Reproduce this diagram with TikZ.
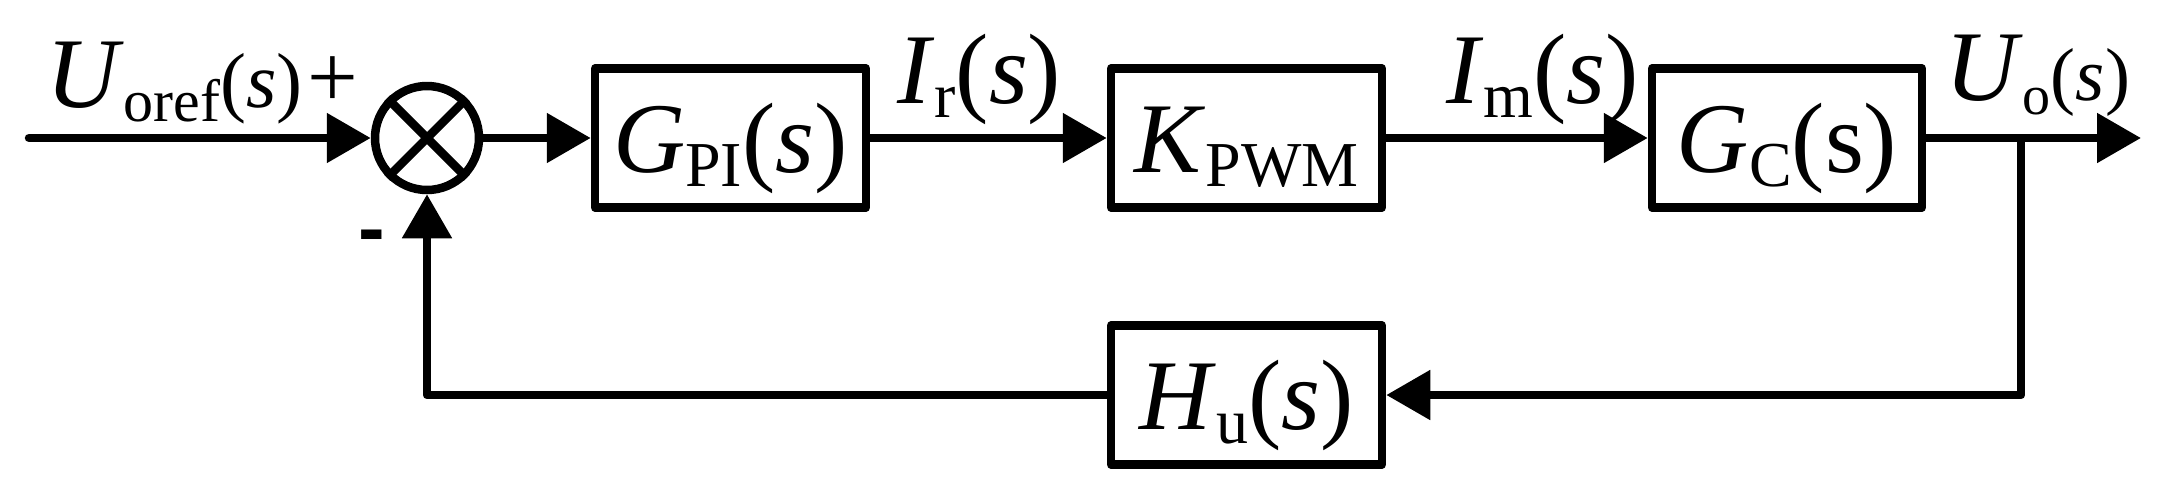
\documentclass[tikz,border=0pt]{standalone}
\usepackage{fontspec}
\setmainfont{Liberation Serif}
\newfontfamily\dashfont{Liberation Sans}
\usetikzlibrary{arrows.meta}
\newcommand{\lowsub}[2][64pt]{\raisebox{-14pt}{\fontsize{#1}{#1}\selectfont #2}}
\newcommand{\bigtext}{\fontsize{100pt}{100pt}\selectfont}
\newcommand{\midtext}{\fontsize{78pt}{78pt}\selectfont}

\begin{document}
\begin{tikzpicture}[x=1pt, y=-1pt, line width=8.5pt, line join=round,
  block/.style={draw, minimum width=271pt, minimum height=139pt, inner sep=0pt,
    text height=80pt, text depth=11pt, font=\bigtext},
  sig/.style={-{Triangle[length=44pt, width=48pt]}},
  lbl/.style={anchor=base west, inner sep=0pt, font=\bigtext}]
  \useasboundingbox (0,0) rectangle (2160,491);

  % Summing junction
  \node [circle, draw, minimum size=104pt, inner sep=0pt] (sum) at (427,138) {};
  \draw (sum.north east) -- (sum.south west);
  \draw (sum.north west) -- (sum.south east);
  \node [inner sep=0pt, font=\fontsize{90pt}{90pt}\selectfont] (plus) at (333,82) {+};
  \node [anchor=base, inner sep=0pt, font=\dashfont\bfseries\fontsize{80pt}{80pt}\selectfont] (minus) at (372,255) {-};

  % Forward path
  \node [block] (gpi) at (730.5,138) {\textit{G}\lowsub{PI}(\textit{s})};
  \node [block] (kpwm) at (1246.5,138) {\textit{K}\lowsub{PWM}};
  \node [block, minimum width=270pt] (gc) at (1787,138) {\textit{G}\lowsub{C}(s)};

  % Feedback path
  \node [block] (hu) at (1246.5,395) {\textit{H}\lowsub{u}(\textit{s})};

  % Signals
  \coordinate (in) at (29,138);
  \coordinate (branch) at (2021,138);
  \coordinate (out) at (2141,138);
  \node [lbl] (uref) at (42,107) {\textit{U}\lowsub[60pt]{oref}{\midtext(\textit{s})}};
  \node [lbl] (ir) at (893,103) {\textit{I}\lowsub{r}(\textit{s})};
  \node [lbl] (im) at (1442,103) {\textit{I}\lowsub{m}(\textit{s})};
  \node [lbl] (uo) at (1941,100) {\textit{U}\lowsub[56pt]{o}{\fontsize{75pt}{75pt}\selectfont(\textit{s})}};

  \draw [sig, line cap=round] (in) -- (sum.west);
  \draw [sig] (sum.east) -- (gpi.west);
  \draw [sig] (gpi.east) -- (kpwm.west);
  \draw [sig] (kpwm.east) -- (gc.west);
  \draw [sig] (gc.east) -- (out);
  \draw [sig] (branch) |- (hu.east);
  \draw [sig] (hu.west) -| (sum.south);
\end{tikzpicture}
\end{document}
